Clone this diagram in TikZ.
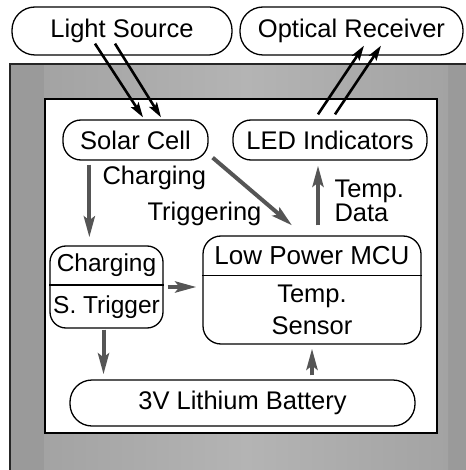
\documentclass[tikz,border=0pt]{standalone}
\usepackage{fontspec}
\setmainfont{Liberation Sans}
\setsansfont{Liberation Sans}
\usetikzlibrary{calc, arrows.meta, positioning}
\definecolor{framegray}{RGB}{154,154,154}
\definecolor{bandgray}{RGB}{180,180,180}
\definecolor{bandedge}{RGB}{163,163,163}
\definecolor{flowgray}{RGB}{85,85,85}

\begin{document}
\begin{tikzpicture}[x=1pt, y=-1pt, font=\sffamily\fontsize{25.5}{30}\selectfont,
    box/.style={draw=black, line width=1.3pt, fill=white, inner sep=0pt, rounded corners=18pt},
    flow/.style={draw=flowgray, line width=4pt, -{Stealth[length=21pt, width=11pt, inset=4pt]}, shorten <=4pt, shorten >=4pt},
    ray/.style={draw=black, line width=2.6pt, -{Stealth[length=15pt, width=9pt, inset=3pt]}},
    split/.style={line width=1.3pt}]
    \useasboundingbox (0,0) rectangle (465,470);

    % housing
    \fill[framegray] (10,64) rectangle (470,475);
    \shade[left color=bandedge, right color=bandedge, middle color=bandgray] (44,64) rectangle (448,475);
    \draw[line width=1.5pt, draw=black!85] (470,64) -- (10,64) -- (10,475);
    \draw[line width=1.3pt, fill=white] (45,99) rectangle (437,433);

    % outside the board
    \node[box, minimum width=220pt, minimum height=48pt, rounded corners=23pt] (lsrc) at (122,31) {Light Source};
    \node[box, minimum width=223pt, minimum height=48pt, rounded corners=23pt] (orecv) at (351.5,31) {Optical Receiver};

    % on the board
    \node[box, minimum width=145pt, minimum height=40pt] (solar) at (135.5,140) {Solar Cell};
    \node[box, minimum width=194pt, minimum height=40pt] (led) at (330,140) {LED Indicators};
    \node[box, minimum width=113pt, minimum height=82pt, rounded corners=16pt] (chg) at (106.5,287) {};
    \node[box, minimum width=218pt, minimum height=108pt] (mcu) at (312,290) {};
    \node[box, minimum width=345pt, minimum height=46pt, rounded corners=22pt] (batt) at (242.5,403) {3V Lithium Battery};

    \draw[split] ($(chg.north west)!0.476!(chg.south west)$) -- ($(chg.north east)!0.476!(chg.south east)$);
    \draw[split] ($(mcu.north west)!0.37!(mcu.south west)$) -- ($(mcu.north east)!0.37!(mcu.south east)$);
    \node[font=\sffamily\fontsize{24.5}{28}\selectfont] (chgtop) at ($(chg.north)!0.238!(chg.south)$) {Charging};
    \node[font=\sffamily\fontsize{24.5}{28}\selectfont] (chgbot) at ($(chg.north)!0.738!(chg.south)$) {S. Trigger};
    \node[font=\sffamily\fontsize{26}{30}\selectfont] (mcutop) at ($(mcu.north)!0.185!(mcu.south)$) {Low Power MCU};
    \node[align=center, font=\sffamily\fontsize{25.5}{32}\selectfont] (mcubot) at ($(mcu.north)!0.685!(mcu.south)$) {Temp.\\Sensor};

    % connectors
    \coordinate (chgout) at ($(chg.south)+(-3,0)$);
    \draw[flow] ($(solar.south west)+(27,0)$) -- ($(chg.north west)+(40,-4)$);
    \node[anchor=west] (lblchg) at (99,178) {Charging};
    \draw[flow, shorten <=0pt, shorten >=0pt] ($(solar.south east)+(4,-3)$) -- ($(mcu.north)+(-20,-10)$);
    \node[anchor=west] (lbltrig) at (144,214) {Triggering};
    \draw[flow, shorten <=10pt, shorten >=5pt] ($(mcu.north)+(6,0)$) -- ($(led.south)+(-12,0)$);
    \node[anchor=west, align=left, font=\sffamily\fontsize{25.5}{23.5}\selectfont] (lbldata) at (331,201) {Temp.\\Data};
    \draw[flow, shorten >=6pt] (chg.east) -- (mcu.west |- chg.east);
    \draw[flow, shorten <=1pt, shorten >=5pt] (chgout) -- (chgout |- batt.north);
    \draw[flow] (mcu.south |- batt.north) -- (mcu.south);

    % light paths
    \draw[ray] ($(lsrc.south)+(-27,-12)$) -- ($(solar.north)+(7.5,-2)$);
    \draw[ray] ($(lsrc.south)+(-7,-12)$) -- ($(solar.north)+(25.5,-2)$);
    \draw[ray] ($(led.north)+(-12,-5)$) -- ($(orecv.south)+(12.5,-10)$);
    \draw[ray] ($(led.north)+(5,-5)$) -- ($(orecv.south)+(29.5,-10)$);
\end{tikzpicture}
\end{document}
